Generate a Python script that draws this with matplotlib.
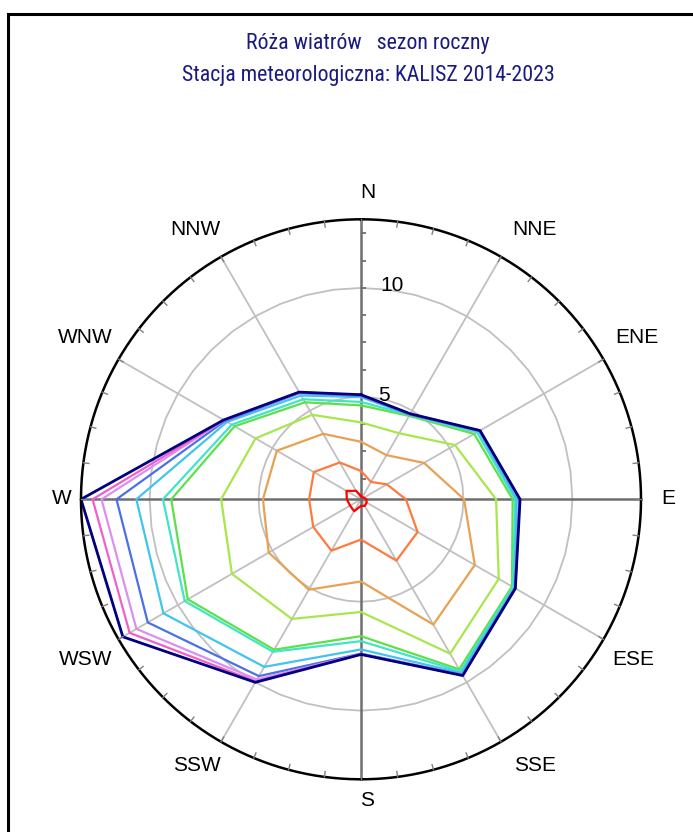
import numpy as np
import matplotlib
matplotlib.use("Agg")
import matplotlib.pyplot as plt
from matplotlib import font_manager
from matplotlib.patches import Rectangle

# kierunki co 30 stopni
directions = ["N", "NNE", "ENE", "E", "ESE", "SSE", "S", "SSW", "WSW", "W", "WNW", "NNW"]
angles_deg = [0, 30, 60, 90, 120, 150, 180, 210, 240, 270, 300, 330]

# czestosci skumulowane [%] dla kolejnych klas predkosci (od srodka na zewnatrz)
red = [0.45, 0.42, 0.45, 0.55, 0.60, 0.65, 0.60, 0.93, 0.88, 0.95, 1.07, 0.75]
orange = [1.60, 1.22, 1.67, 2.36, 3.30, 3.55, 2.15, 3.02, 2.83, 2.68, 2.80, 2.25]
light_orange = [2.94, 2.64, 3.64, 5.03, 6.33, 6.94, 4.07, 5.09, 5.19, 4.80, 4.76, 3.77]
yellow_green = [3.83, 3.80, 5.28, 6.50, 7.60, 8.48, 5.47, 6.64, 7.14, 6.72, 5.89, 4.78]
green = [4.61, 4.72, 6.30, 7.26, 8.30, 9.31, 6.58, 8.27, 9.48, 9.01, 7.00, 5.44]
turquoise = [4.77, 4.76, 6.45, 7.37, 8.36, 9.42, 6.81, 8.38, 9.64, 9.39, 7.15, 5.60]
sky = [4.99, 4.78, 6.55, 7.45, 8.42, 9.50, 7.19, 9.18, 10.77, 10.61, 7.40, 5.80]
blue = [5.05, 4.80, 6.58, 7.57, 8.46, 9.60, 7.38, 9.67, 11.60, 11.52, 7.50, 5.93]
violet = [5.08, 4.82, 6.60, 7.58, 8.47, 9.62, 7.40, 9.85, 12.20, 12.21, 7.55, 5.96]
pink = [5.09, 4.82, 6.60, 7.59, 8.47, 9.63, 7.41, 9.95, 12.56, 12.62, 7.56, 5.97]
navy = [5.10, 4.83, 6.61, 7.60, 8.48, 9.64, 7.42, 10.00, 12.92, 13.15, 7.58, 5.98]

series = [red, orange, light_orange, yellow_green, green, turquoise, sky, blue, violet, pink, navy]
colors = ["#ff0000", "#ff7a3c", "#e8a152", "#a9e64c", "#5ee04a", "#40e6c4",
          "#40c4f0", "#4a70e8", "#d990f0", "#f060c8", "#000080"]

ring_values = [5, 10]
axis_ticks = np.arange(1.25, 12.6, 1.25)

title1 = "Róża wiatrów   sezon roczny"
title2 = "Stacja meteorologiczna: KALISZ 2014-2023"

rmin = 0.3
rmax = max(navy)

# waska czcionka do tytulu, jesli jest
installed = {f.name for f in font_manager.fontManager.ttflist}
narrow = [n for n in ["Liberation Sans Narrow", "Roboto Condensed", "Open Sans Condensed",
                      "DejaVu Sans Condensed", "Noto Sans Display", "Roboto"] if n in installed]
title_family = narrow[:1] + ["DejaVu Sans"]

fig = plt.figure(figsize=(6.93, 8.32), dpi=100)
fig.patch.set_facecolor("white")

# ramka
fig.add_artist(Rectangle((8 / 693, -0.05), 1.2, (832 - 14) / 832 + 0.05,
                         transform=fig.transFigure, fill=False, lw=2.2, ec="black"))

t1 = fig.text(368 / 693, 1 - 43 / 832, title1, ha="center", va="center",
              color="#1a1a80", fontsize=15, family=title_family, fontstretch="condensed")
t2 = fig.text(368 / 693, 1 - 75 / 832, title2, ha="center", va="center",
              color="#1a1a80", fontsize=15, family=title_family, fontstretch="condensed")
fig.canvas.draw()
w2 = t2.get_window_extent().width
fs = 15 * 375 / w2
t1.set_fontsize(fs)
t2.set_fontsize(fs)

ax = fig.add_axes([81 / 693, (832 - 499.3 - 280) / 832, 560 / 693, 560 / 832], projection="polar")
ax.set_theta_zero_location("N")
ax.set_theta_direction(-1)
ax.set_ylim(rmin, rmax)
ax.grid(False)
ax.set_xticks([])
ax.set_yticks([])
ax.axis("off")

th = np.radians(angles_deg)

# siatka: pierscienie (48-katy) i promienie
ring_th = np.radians(np.arange(0, 360.1, 7.5))
for rv in ring_values:
    ax.plot(ring_th, [rv] * len(ring_th), color="#c0c0c0", lw=1.3, zorder=1, clip_on=False)
for a in angles_deg:
    if a % 90 == 0:
        continue
    ax.plot([np.radians(a)] * 2, [rmin, rmax], color="#c0c0c0", lw=1.3, zorder=1, clip_on=False)
for a in [0, 90, 180, 270]:
    ax.plot([np.radians(a)] * 2, [rmin, rmax], color="#6e6e6e", lw=1.8, zorder=2, clip_on=False)

# kreski na osi N
ax.plot([0] * len(axis_ticks), axis_ticks, ls="none", marker=[(0, 0), (1, 0)], ms=7,
        mec="#6e6e6e", mew=1.3, zorder=2, clip_on=False)

# okrag zewnetrzny z kreskami co 7.5 stopnia
circ = np.linspace(0, 2 * np.pi, 400)
ax.plot(circ, [rmax] * len(circ), color="black", lw=1.8, zorder=4, clip_on=False)
for a in np.arange(0, 360, 7.5):
    ax.plot([np.radians(a)] * 2, [rmax - 0.25, rmax], color="#808080", lw=1.0, zorder=4, clip_on=False)

# wielokaty
for vals, c in zip(series, colors):
    lw = 2.0 if c == "#000080" else 1.6
    ax.plot(np.append(th, th[0]), vals + vals[:1], color=c, lw=lw, zorder=3, clip_on=False)

# etykiety skali
ax.annotate("10", xy=(0, 10), xytext=(31, 2), textcoords="offset pixels", ha="center",
            va="center", fontsize=15, family="Liberation Sans")
ax.annotate("5", xy=(0, 5), xytext=(23, 1), textcoords="offset pixels", ha="center",
            va="center", fontsize=15, family="Liberation Sans")

# etykiety kierunkow
label_offsets = [(7, 27), (34, 27), (33, 22), (27, 1), (30, -20), (34, -24),
                 (6, -21), (-24, -24), (-33, -20), (-19, 1), (-33, 22), (-26, 27)]
for name, t, off in zip(directions, th, label_offsets):
    ax.annotate(name, xy=(t, rmax), xytext=off, textcoords="offset pixels", ha="center",
                va="center", fontsize=15, family="Liberation Sans", annotation_clip=False)

fig.savefig("out.png", dpi=100, facecolor="white")
